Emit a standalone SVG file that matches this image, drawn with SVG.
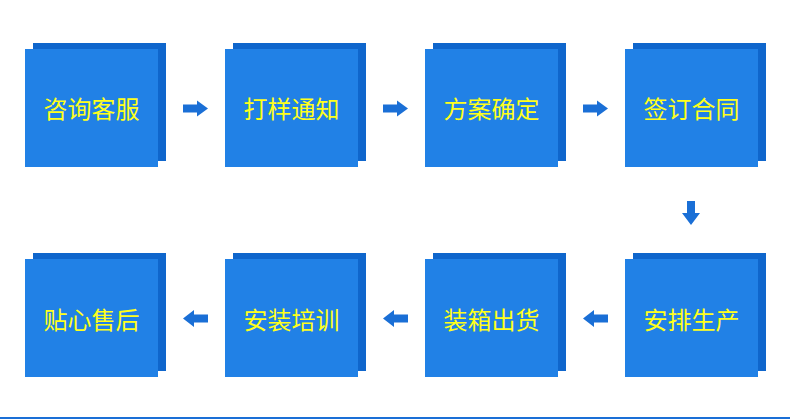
<svg xmlns="http://www.w3.org/2000/svg" width="790" height="419" viewBox="0 0 790 419">
<style>
.back{fill:#0f66cc}
.front{fill:#2181e6}
.lbl{font-family:"Noto Sans CJK SC","Noto Sans",sans-serif;font-size:24px;fill:#ffff1a;text-anchor:middle;dominant-baseline:central}
.arr{fill:#1a6fd6}
</style>
<rect width="790" height="419" fill="#ffffff"/>
<g id="n1"><rect class="back" x="33" y="43" width="133" height="118"/><rect class="front" x="25" y="49" width="133" height="118"/><text class="lbl" x="91.5" y="107.5">咨询客服</text></g>
<g id="n2"><rect class="back" x="233" y="43" width="133" height="118"/><rect class="front" x="225" y="49" width="133" height="118"/><text class="lbl" x="291.5" y="107.5">打样通知</text></g>
<g id="n3"><rect class="back" x="433" y="43" width="133" height="118"/><rect class="front" x="425" y="49" width="133" height="118"/><text class="lbl" x="491.5" y="107.5">方案确定</text></g>
<g id="n4"><rect class="back" x="633" y="43" width="133" height="118"/><rect class="front" x="625" y="49" width="133" height="118"/><text class="lbl" x="691.5" y="107.5">签订合同</text></g>
<g id="n5"><rect class="back" x="633" y="253" width="133" height="118"/><rect class="front" x="625" y="259" width="133" height="118"/><text class="lbl" x="691.5" y="318">安排生产</text></g>
<g id="n6"><rect class="back" x="433" y="253" width="133" height="118"/><rect class="front" x="425" y="259" width="133" height="118"/><text class="lbl" x="491.5" y="318">装箱出货</text></g>
<g id="n7"><rect class="back" x="233" y="253" width="133" height="118"/><rect class="front" x="225" y="259" width="133" height="118"/><text class="lbl" x="291.5" y="318">安装培训</text></g>
<g id="n8"><rect class="back" x="33" y="253" width="133" height="118"/><rect class="front" x="25" y="259" width="133" height="118"/><text class="lbl" x="91.5" y="318">贴心售后</text></g>
<g id="connectors">
<path class="arr" d="M183,104.5 H197 V100.5 L208,108.5 L197,116.5 V112.5 H183 Z"/>
<path class="arr" d="M383,104.5 H397 V100.5 L408,108.5 L397,116.5 V112.5 H383 Z"/>
<path class="arr" d="M583,104.5 H597 V100.5 L608,108.5 L597,116.5 V112.5 H583 Z"/>
<path class="arr" d="M687,201 H695 V213 H700 L691,225 L682,213 H687 Z"/>
<path class="arr" d="M608,314.5 H594 V310 L583,318.5 L594,327 V322.5 H608 Z"/>
<path class="arr" d="M408,314.5 H394 V310 L383,318.5 L394,327 V322.5 H408 Z"/>
<path class="arr" d="M208,314.5 H194 V310 L183,318.5 L194,327 V322.5 H208 Z"/>
</g>
<rect x="0" y="417" width="790" height="2" fill="#1a6fd6"/>
</svg>
